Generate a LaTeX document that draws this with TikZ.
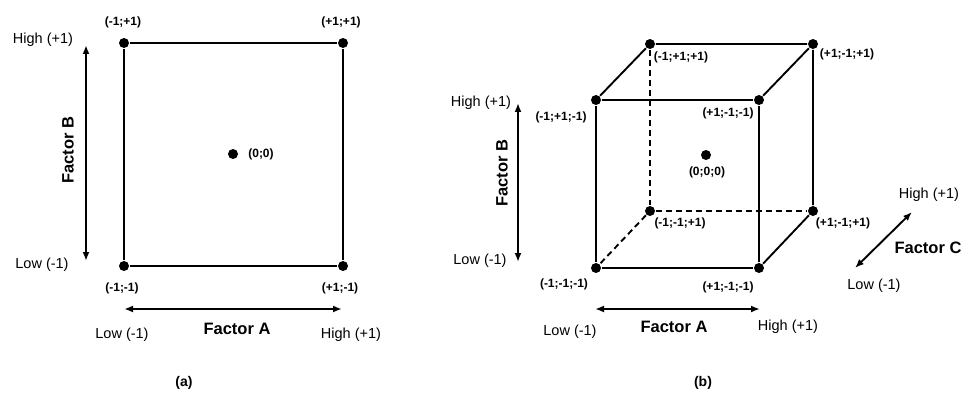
\documentclass[tikz,border=0pt]{standalone}
\usepackage{fontspec}
\setmainfont{Liberation Sans}
\usetikzlibrary{arrows.meta}

\begin{document}
\begin{tikzpicture}[x=1pt, y=-1pt, >={Latex[length=9pt,width=7pt]}, line width=1.9pt]
    % Styles
    \tikzstyle{run} = [circle, fill=black, inner sep=0pt, minimum size=10pt]
    \tikzstyle{corner} = [font=\bfseries\fontsize{12}{14}\selectfont]
    \tikzstyle{level} = [font=\fontsize{14.5}{16}\selectfont]
    \tikzstyle{factor} = [font=\bfseries\fontsize{16.5}{18}\selectfont]
    \tikzstyle{caption} = [font=\bfseries\fontsize{14}{16}\selectfont]
    \tikzstyle{hidden} = [dash pattern=on 6pt off 4pt]

    \useasboundingbox (0,0) rectangle (962,393);

    % (a) two factors
    \node [run] (sLL) at (124,266) {};
    \node [run] (sHL) at (343,266) {};
    \node [run] (sLH) at (124,43) {};
    \node [run] (sHH) at (343,43) {};
    \node [run] (s00) at (233,154) {};

    \node [corner] (tLH) at (123,22) {(-1;+1)};
    \node [corner] (tHH) at (341,22) {(+1;+1)};
    \node [corner] (tLL) at (122,288) {(-1;-1)};
    \node [corner] (tHL) at (340,288) {(+1;-1)};
    \node [corner] (t00) at (261,154) {(0;0)};

    \coordinate (aBhi) at (86,45);
    \coordinate (aBlo) at (86,261);
    \coordinate (aAlo) at (124,309);
    \coordinate (aAhi) at (342,309);
    \node [level] (aBhigh) at (43,40) {High (+1)};
    \node [level] (aBlow) at (42,265) {Low (-1)};
    \node [factor, rotate=90] (aBname) at (68,150) {Factor B};
    \node [level] (aAlow) at (122,335) {Low (-1)};
    \node [factor] (aAname) at (237,329) {Factor A};
    \node [level] (aAhigh) at (351,335) {High (+1)};
    \node [caption] (capa) at (184,383) {(a)};

    \draw (sLL) -- (sHL) -- (sHH) -- (sLH) -- (sLL);
    \draw [<->] (aBhi) -- (aBlo);
    \draw [<->] (aAlo) -- (aAhi);

    % (b) three factors
    \node [run] (cLLL) at (596,268) {};
    \node [run] (cHLL) at (759,268) {};
    \node [run] (cLHL) at (596,100) {};
    \node [run] (cHHL) at (759,100) {};
    \node [run] (cLLH) at (650,211) {};
    \node [run] (cHLH) at (813,211) {};
    \node [run] (cLHH) at (650,44) {};
    \node [run] (cHHH) at (813,44) {};
    \node [run] (c000) at (706,155) {};

    \node [corner] (uLHH) at (681,57) {(-1;+1;+1)};
    \node [corner] (uLHL) at (561,117) {(-1;+1;-1)};
    \node [corner] (uHHL) at (728,113) {(+1;-1;-1)};
    \node [corner] (uHHH) at (847,54) {(+1;-1;+1)};
    \node [corner] (u000) at (707,172) {(0;0;0)};
    \node [corner] (uLLH) at (680,223) {(-1;-1;+1)};
    \node [corner] (uHLH) at (843,223) {(+1;-1;+1)};
    \node [corner] (uLLL) at (564,284) {(-1;-1;-1)};
    \node [corner] (uHLL) at (728,287) {(+1;-1;-1)};

    \coordinate (bBhi) at (518,103);
    \coordinate (bBlo) at (518,262);
    \coordinate (bAlo) at (595,309);
    \coordinate (bAhi) at (760,309);
    \coordinate (bClo) at (855,268);
    \coordinate (bChi) at (912,212);
    \node [level] (bBhigh) at (481,103) {High (+1)};
    \node [level] (bBlow) at (480,261) {Low (-1)};
    \node [factor, rotate=90] (bBname) at (502,173) {Factor B};
    \node [level] (bAlow) at (570,332) {Low (-1)};
    \node [factor] (bAname) at (674,327) {Factor A};
    \node [level] (bAhigh) at (788,327) {High (+1)};
    \node [level] (bChigh) at (929,195) {High (+1)};
    \node [factor] (bCname) at (928,248) {Factor C};
    \node [level] (bClow) at (874,286) {Low (-1)};
    \node [caption] (capb) at (703,383) {(b)};

    \draw (cLLL) -- (cHLL) -- (cHHL) -- (cLHL) -- (cLLL);
    \draw (cLHL) -- (cLHH) -- (cHHH) -- (cHHL);
    \draw (cHHH) -- (cHLH) -- (cHLL);
    \draw [hidden] (cLHH) -- (cLLH) -- (cHLH);
    \draw [hidden] (cLLH) -- (cLLL);
    \draw [<->] (bBhi) -- (bBlo);
    \draw [<->] (bAlo) -- (bAhi);
    \draw [<->] (bClo) -- (bChi);
\end{tikzpicture}
\end{document}
